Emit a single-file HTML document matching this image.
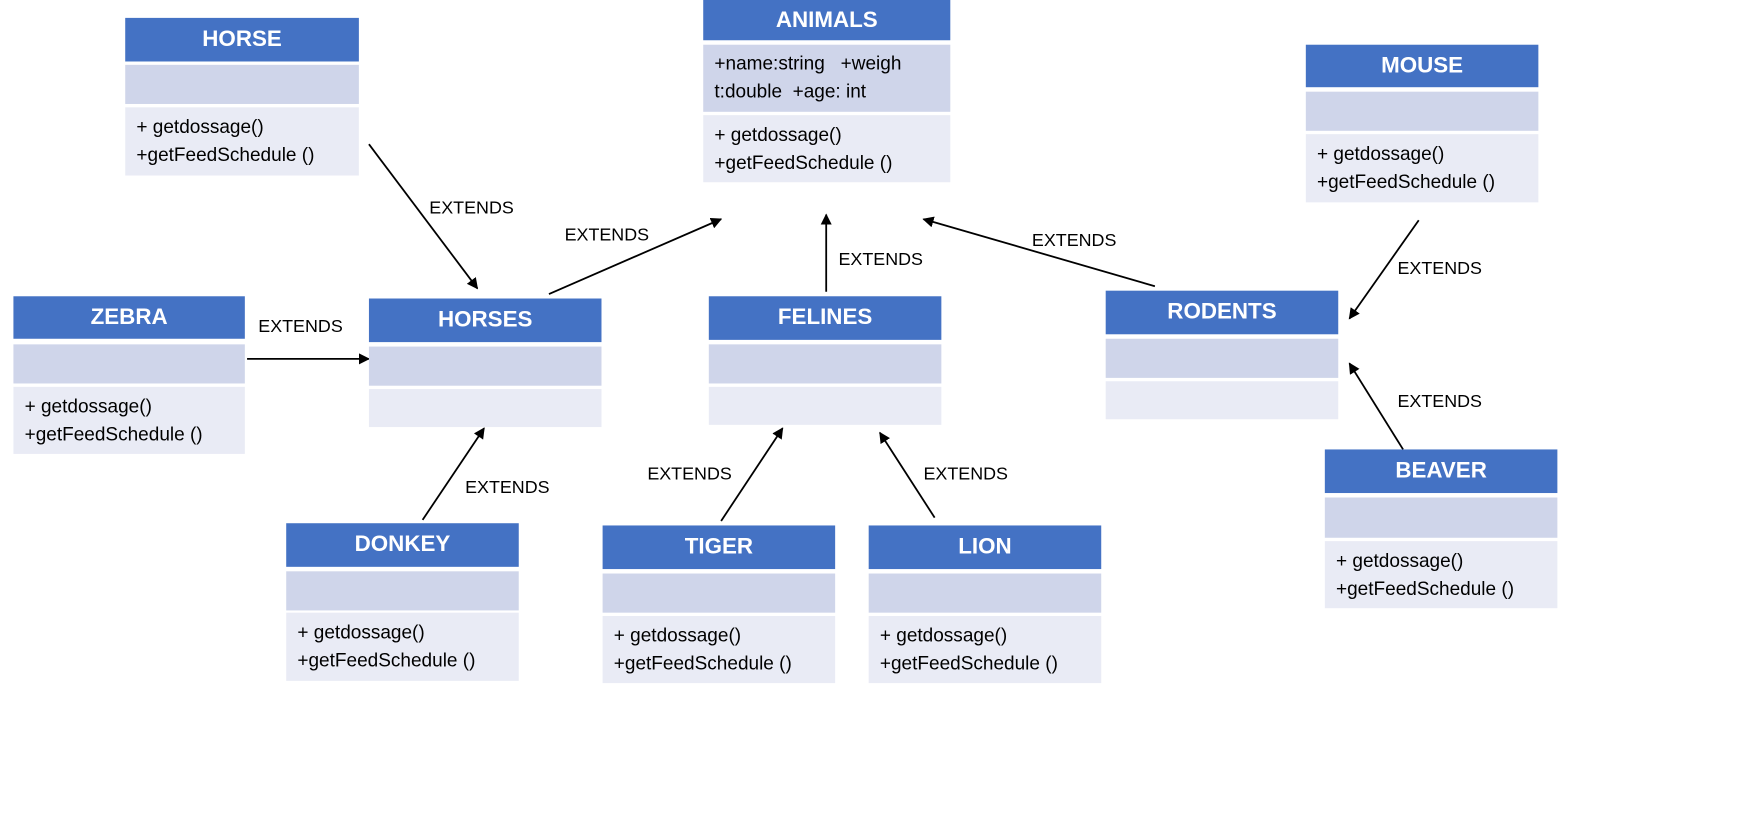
<!DOCTYPE html>
<html><head><meta charset="utf-8"><style>
body{margin:0;width:1753px;height:813px;background:#fff;position:relative;overflow:hidden;font-family:"Liberation Sans",sans-serif}
#wrap{position:absolute;left:0;top:0;width:1568px;height:727px;transform:scale(1.118);transform-origin:0 0}
.box{position:absolute}
.h{position:absolute;left:0;right:0;background:#4472c4;color:#fff;font-weight:bold;font-size:20px;display:flex;align-items:center;justify-content:center}
.r2{position:absolute;left:0;right:0;background:#cfd5ea;font-size:17px;color:#000;padding:6px 10px;box-sizing:border-box;line-height:25px}
.r3{position:absolute;left:0;right:0;background:#e9ebf5;font-size:17px;color:#000;padding:5px 10px;box-sizing:border-box;line-height:25px}
.lbl{position:absolute;font-size:16px;color:#000}
svg{position:absolute;left:0;top:0}
</style></head><body>
<div id="wrap">
<svg width="1568" height="727">
<defs><marker id="a" markerWidth="10" markerHeight="10" refX="9" refY="5" orient="auto" markerUnits="userSpaceOnUse"><path d="M0,0 L10,5 L0,10z" fill="#000"/></marker></defs>
<g stroke="#000" stroke-width="1.6" marker-end="url(#a)">
<line x1="330" y1="129" x2="427" y2="258"/>
<line x1="491" y1="263" x2="645" y2="196"/>
<line x1="739" y1="261" x2="739" y2="192"/>
<line x1="1033" y1="256" x2="826" y2="196"/>
<line x1="1269" y1="197" x2="1207" y2="285"/>
<line x1="1255" y1="402" x2="1207" y2="325"/>
<line x1="221" y1="321" x2="330" y2="321"/>
<line x1="378" y1="465" x2="433" y2="383"/>
<line x1="645" y1="466" x2="700" y2="383"/>
<line x1="836" y1="463" x2="787" y2="387"/>
</g></svg>

<div class="box" style="left:112px;top:16px;width:209px">
<div class="h" style="top:0;height:39px">HORSE</div><div class="r2" style="top:42px;height:35px"></div>
<div class="r3" style="top:80px;height:61px">+ getdossage()<br>+getFeedSchedule ()</div></div>

<div class="box" style="left:629px;top:0;width:221px">
<div class="h" style="top:0;height:36px">ANIMALS</div><div class="r2" style="top:40px;height:60px;padding-top:4px">+name:string &nbsp;&nbsp;+weigh<br>t:double &nbsp;+age: int</div>
<div class="r3" style="top:103px;height:60px">+ getdossage()<br>+getFeedSchedule ()</div></div>

<div class="box" style="left:1168px;top:40px;width:208px">
<div class="h" style="top:0;height:38px">MOUSE</div><div class="r2" style="top:42px;height:35px"></div>
<div class="r3" style="top:80px;height:61px">+ getdossage()<br>+getFeedSchedule ()</div></div>

<div class="box" style="left:12px;top:265px;width:207px">
<div class="h" style="top:0;height:38px">ZEBRA</div><div class="r2" style="top:43px;height:35px"></div>
<div class="r3" style="top:81px;height:60px">+ getdossage()<br>+getFeedSchedule ()</div></div>

<div class="box" style="left:330px;top:267px;width:208px">
<div class="h" style="top:0;height:39px">HORSES</div><div class="r2" style="top:43px;height:35px"></div>
<div class="r3" style="top:81px;height:34px"></div></div>

<div class="box" style="left:634px;top:265px;width:208px">
<div class="h" style="top:0;height:39px">FELINES</div><div class="r2" style="top:43px;height:35px"></div>
<div class="r3" style="top:81px;height:34px"></div></div>

<div class="box" style="left:989px;top:260px;width:208px">
<div class="h" style="top:0;height:39px">RODENTS</div><div class="r2" style="top:43px;height:35px"></div>
<div class="r3" style="top:81px;height:34px"></div></div>

<div class="box" style="left:256px;top:468px;width:208px">
<div class="h" style="top:0;height:39px">DONKEY</div><div class="r2" style="top:43px;height:35px"></div>
<div class="r3" style="top:80px;height:61px">+ getdossage()<br>+getFeedSchedule ()</div></div>

<div class="box" style="left:539px;top:470px;width:208px">
<div class="h" style="top:0;height:39px">TIGER</div><div class="r2" style="top:43px;height:35px"></div>
<div class="r3" style="top:81px;height:60px">+ getdossage()<br>+getFeedSchedule ()</div></div>

<div class="box" style="left:777px;top:470px;width:208px">
<div class="h" style="top:0;height:39px">LION</div><div class="r2" style="top:43px;height:35px"></div>
<div class="r3" style="top:81px;height:60px">+ getdossage()<br>+getFeedSchedule ()</div></div>

<div class="box" style="left:1185px;top:402px;width:208px">
<div class="h" style="top:0;height:39px">BEAVER</div><div class="r2" style="top:43px;height:36px"></div>
<div class="r3" style="top:82px;height:60px">+ getdossage()<br>+getFeedSchedule ()</div></div>

<div class="lbl" style="left:384px;top:178px">EXTENDS</div>
<div class="lbl" style="left:505px;top:202px">EXTENDS</div>
<div class="lbl" style="left:750px;top:224px">EXTENDS</div>
<div class="lbl" style="left:923px;top:207px">EXTENDS</div>
<div class="lbl" style="left:1250px;top:232px">EXTENDS</div>
<div class="lbl" style="left:1250px;top:351px">EXTENDS</div>
<div class="lbl" style="left:231px;top:284px">EXTENDS</div>
<div class="lbl" style="left:416px;top:428px">EXTENDS</div>
<div class="lbl" style="left:579px;top:416px">EXTENDS</div>
<div class="lbl" style="left:826px;top:416px">EXTENDS</div>
</div>
</body></html>
